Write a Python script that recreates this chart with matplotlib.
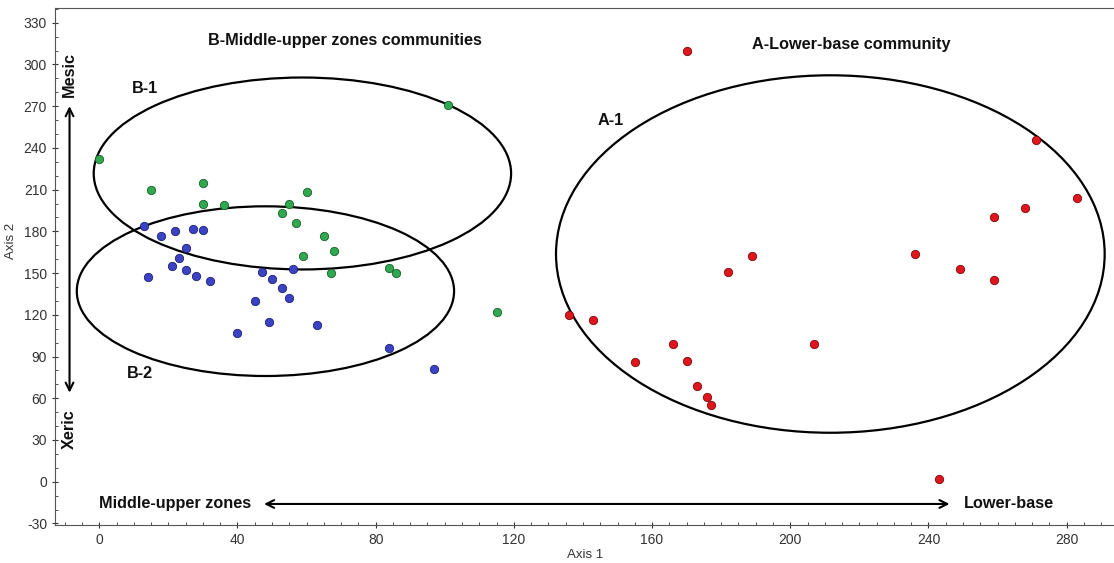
import matplotlib.pyplot as plt
from matplotlib.patches import Ellipse
from matplotlib.ticker import MultipleLocator

plt.rcParams['font.family'] = ['Liberation Sans', 'DejaVu Sans']
plt.rcParams['axes.unicode_minus'] = False

# group B-1 (green)
green_x = [0, 101, 15, 30, 30, 36, 60, 55, 53, 57, 65, 68, 59, 67, 84, 86, 115]
green_y = [232, 271, 210, 215, 200, 199, 208, 200, 193, 186, 177, 166, 162, 150, 154, 150, 122]

# group B-2 (blue)
blue_x = [13, 18, 22, 27, 30, 25, 23, 21, 25, 28, 32, 14, 47, 50, 56, 53, 55, 45, 49, 40, 63, 84, 97]
blue_y = [184, 177, 180, 182, 181, 168, 161, 155, 152, 148, 144, 147, 151, 146, 153, 139, 132, 130, 115, 107, 113, 96, 81]

# group A-1 (red)
red_x = [170, 271, 283, 268, 259, 236, 249, 259, 189, 182, 136, 143, 155, 166, 170, 173, 176, 177, 207, 243]
red_y = [310, 246, 204, 197, 190, 164, 153, 145, 162, 151, 120, 116, 86, 99, 87, 69, 61, 55, 99, 2]

# ellipses: centre x, centre y, width, height
ell_names = ['B-1', 'B-2', 'A-1']
ell_cx = [58.8, 48.1, 211.6]
ell_cy = [221.6, 137.0, 163.7]
ell_w = [120.8, 109.2, 158.8]
ell_h = [138.0, 122.0, 257.0]

fig = plt.figure(figsize=(11.14, 5.63), dpi=100)
ax = fig.add_axes([0.0497, 0.0673, 0.9503, 0.9178])

for cx, cy, w, h in zip(ell_cx, ell_cy, ell_w, ell_h):
    ax.add_patch(Ellipse((cx, cy), w, h, fill=False, edgecolor='black', lw=1.6, zorder=2))

ax.scatter(green_x, green_y, s=36, c='#2fa84f', edgecolors='#1b5e2c', linewidths=0.6, zorder=3)
ax.scatter(blue_x, blue_y, s=36, c='#3b43c4', edgecolors='#1c2170', linewidths=0.6, zorder=3)
ax.scatter(red_x, red_y, s=36, c='#e0161c', edgecolors='#7a0a0c', linewidths=0.6, zorder=3)

bold = dict(fontsize=11.7, fontweight='bold', color='#111111')
ax.text(71, 317, 'B-Middle-upper zones communities', ha='center', va='center', **bold)
ax.text(217.7, 314, 'A-Lower-base community', ha='center', va='center', **bold)
ax.text(9.5, 283, 'B-1', ha='left', va='center', **bold)
ax.text(8, 77.5, 'B-2', ha='left', va='center', **bold)
ax.text(144.3, 260, 'A-1', ha='left', va='center', **bold)
ax.text(-8.6, 293, 'Mesic', rotation=90, ha='center', va='center', **bold)
ax.text(-8.6, 38, 'Xeric', rotation=90, ha='center', va='center', **bold)
ax.text(21.9, -16, 'Middle-upper zones', ha='center', va='center', **bold)
ax.text(250.3, -16, 'Lower-base', ha='left', va='center', **bold)

arrow = dict(arrowstyle='<->', lw=1.5, color='black', mutation_scale=14, shrinkA=0, shrinkB=0)
ax.annotate('', xy=(-8.6, 270), xytext=(-8.6, 64), arrowprops=arrow)
ax.annotate('', xy=(47.7, -16), xytext=(246.1, -16), arrowprops=arrow)

ax.set_xlim(-12.7, 293.7)
ax.set_ylim(-31.2, 340.3)
ax.set_xticks(range(0, 281, 40))
ax.set_yticks(range(-30, 331, 30))
ax.xaxis.set_minor_locator(MultipleLocator(5))
ax.yaxis.set_minor_locator(MultipleLocator(10))
ax.tick_params(which='both', labelsize=10, colors='#333333')
ax.tick_params(which='major', direction='inout', length=5)
ax.tick_params(which='minor', direction='in', length=2.5)
ax.spines['right'].set_visible(False)
for s in ['left', 'top', 'bottom']:
    ax.spines[s].set_color('#555555')

ax.set_xlabel('Axis 1', fontsize=9.5, color='#333333', labelpad=1)
ax.set_ylabel('Axis 2', fontsize=9.5, color='#333333')
ax.yaxis.set_label_coords(-0.036, 0.55)

fig.savefig('out.png', dpi=100)
